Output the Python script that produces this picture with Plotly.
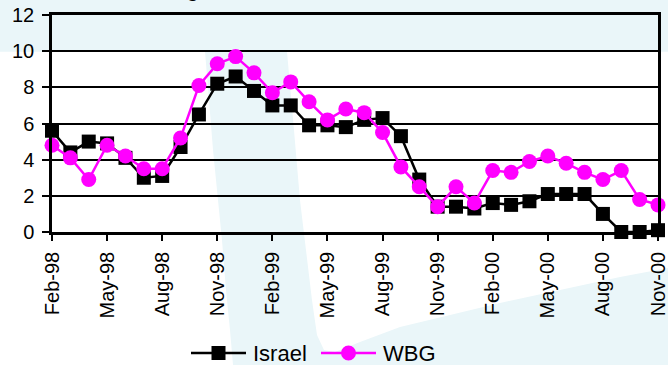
import plotly.graph_objects as go

# Monthly inflation rates (%), Feb-1998 to Nov-2000
months = [
    "Feb-98", "Mar-98", "Apr-98", "May-98", "Jun-98", "Jul-98", "Aug-98", "Sep-98",
    "Oct-98", "Nov-98", "Dec-98", "Jan-99", "Feb-99", "Mar-99", "Apr-99", "May-99",
    "Jun-99", "Jul-99", "Aug-99", "Sep-99", "Oct-99", "Nov-99", "Dec-99", "Jan-00",
    "Feb-00", "Mar-00", "Apr-00", "May-00", "Jun-00", "Jul-00", "Aug-00", "Sep-00",
    "Oct-00", "Nov-00",
]
israel = [
    5.6, 4.4, 5.0, 4.9, 4.1, 3.0, 3.1, 4.7, 6.5, 8.2, 8.6, 7.8, 7.0, 7.0, 5.9, 5.9,
    5.8, 6.2, 6.3, 5.3, 2.9, 1.4, 1.4, 1.3, 1.6, 1.5, 1.7, 2.1, 2.1, 2.1, 1.0, 0.0,
    0.0, 0.1,
]
wbg = [
    4.8, 4.1, 2.9, 4.8, 4.2, 3.5, 3.5, 5.2, 8.1, 9.3, 9.7, 8.8, 7.7, 8.3, 7.2, 6.2,
    6.8, 6.6, 5.5, 3.6, 2.5, 1.4, 2.5, 1.6, 3.4, 3.3, 3.9, 4.2, 3.8, 3.3, 2.9, 3.4,
    1.8, 1.5,
]
x_ticks = months[::3]
y_ticks = [0, 2, 4, 6, 8, 10, 12]

W, H = 668, 365
ML, MR, MT, MB = 52, 10, 15, 133
PW, PH = W - ML - MR, H - MT - MB
FONT = "Arial, Liberation Sans, sans-serif"
WATER = "#EAF6F9"
MAGENTA = "#FF00FF"


def px(x):
    return (x - ML) / PW


def py(y):
    return (H - MB - y) / PH


def path(points):
    return "M " + " L ".join(f"{px(a):.4f},{py(b):.4f}" for a, b in points) + " Z"


series = [
    dict(name="Israel", values=israel, color="black", symbol="square", size=14),
    dict(name="WBG", values=wbg, color=MAGENTA, symbol="circle", size=15),
]

fig = go.Figure()
for s in series:
    fig.add_trace(go.Scatter(
        x=months, y=s["values"], name=s["name"], mode="lines+markers",
        line=dict(color=s["color"], width=2.5),
        marker=dict(symbol=s["symbol"], size=s["size"], color=s["color"]),
        cliponaxis=False, showlegend=False,
    ))

# pale background emblem
fig.add_shape(type="path", xref="paper", yref="paper", layer="below",
              path=path([(0, 0), (W, 0), (W, 51.7), (0, 51.7)]),
              fillcolor=WATER, line_width=0)
fig.add_shape(type="path", xref="paper", yref="paper", layer="below",
              path=path([
                  (205, 51.7), (209, 100), (213, 150), (218, 200), (222, 240),
                  (226, 290), (230, 330), (233, 365), (W, 365), (W, 268),
                  (620, 277), (560, 290), (500, 303), (450, 315), (400, 327),
                  (360, 342), (335, 352), (324, 350), (317, 335), (312, 300),
                  (306, 250), (300, 200), (294, 130), (287, 51.7),
              ]),
              fillcolor=WATER, line_width=0)

# legend row under the axis: line sample, marker, label
LEG_Y = 353
leg_x = [191, 321]
for s, x0 in zip(series, leg_x):
    fig.add_shape(type="line", xref="paper", yref="paper",
                  x0=px(x0), x1=px(x0 + 55), y0=py(LEG_Y), y1=py(LEG_Y),
                  line=dict(color=s["color"], width=2.5))
    half = s["size"] / 2
    cx = x0 + 27.5
    fig.add_shape(type="rect" if s["symbol"] == "square" else "circle",
                  xref="paper", yref="paper",
                  x0=px(cx - half), x1=px(cx + half),
                  y0=py(LEG_Y - half), y1=py(LEG_Y + half),
                  fillcolor=s["color"], line_width=0)
    fig.add_annotation(text=s["name"], xref="paper", yref="paper",
                       x=px(x0 + 60), y=py(LEG_Y), xanchor="left", yanchor="middle",
                       showarrow=False, font=dict(family=FONT, size=22, color="black"))

fig.add_annotation(
    text="<b>Figure 2: Inflation Rates</b>", xref="paper", yref="paper",
    x=px(167), y=1, xanchor="left", yanchor="bottom", yshift=12,
    showarrow=False, font=dict(family=FONT, size=20, color="black"),
)

fig.update_layout(
    width=W, height=H,
    margin=dict(l=ML, r=MR, t=MT, b=MB, pad=0, autoexpand=False),
    paper_bgcolor="white", plot_bgcolor="rgba(0,0,0,0)",
    font=dict(family=FONT, size=20, color="black"),
    showlegend=False,
)
fig.update_xaxes(
    type="category", range=[0, len(months) - 1], automargin=False,
    tickmode="array", tickvals=x_ticks, ticktext=x_ticks, tickangle=-90,
    ticks="outside", ticklen=6, tickwidth=2, tickcolor="black",
    ticklabelstandoff=3,
    showline=True, linecolor="black", linewidth=2.5, mirror=True,
    showgrid=False, zeroline=False,
)
fig.update_yaxes(
    range=[0, 12], tickmode="array", tickvals=y_ticks, automargin=False,
    ticks="outside", ticklen=7, tickwidth=2, tickcolor="black",
    ticklabelstandoff=4,
    showline=True, linecolor="black", linewidth=2.5, mirror=True,
    showgrid=True, gridcolor="black", gridwidth=2, zeroline=False,
)

fig.write_html("out.html")
